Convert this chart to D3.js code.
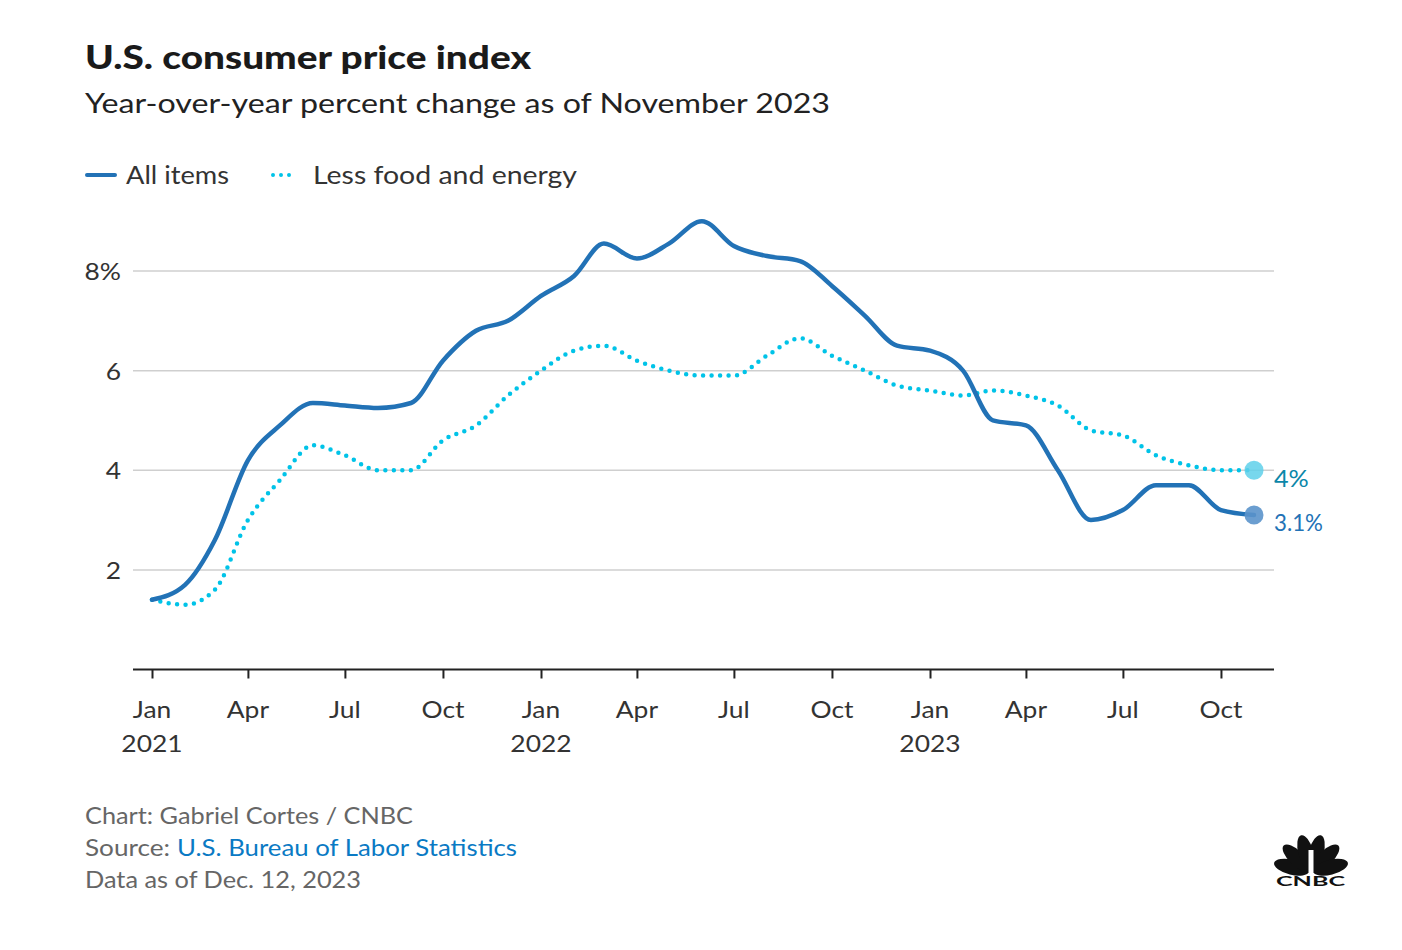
<!DOCTYPE html>
<html><head><meta charset="utf-8">
<script src="https://cdn.jsdelivr.net/npm/d3@7"></script>
<style>body{margin:0;background:#fff;} text{font-family:Lato, "Open Sans", sans-serif;}</style>
</head><body>
<svg id="c" width="1402" height="950"></svg>
<script>
const months = ["2021-01","2021-02","2021-03","2021-04","2021-05","2021-06","2021-07","2021-08","2021-09","2021-10","2021-11","2021-12",
"2022-01","2022-02","2022-03","2022-04","2022-05","2022-06","2022-07","2022-08","2022-09","2022-10","2022-11","2022-12",
"2023-01","2023-02","2023-03","2023-04","2023-05","2023-06","2023-07","2023-08","2023-09","2023-10","2023-11"];
const allItems = [1.4,1.7,2.6,4.2,4.9,5.35,5.3,5.25,5.35,6.2,6.8,7.0,
7.5,7.9,8.55,8.25,8.55,9.0,8.5,8.3,8.2,7.7,7.1,6.5,
6.4,6.0,5.0,4.9,4.0,3.0,3.2,3.7,3.7,3.2,3.1];
const core = [1.4,1.3,1.6,3.0,3.8,4.5,4.3,4.0,4.0,4.6,4.9,5.5,
6.0,6.4,6.5,6.2,6.0,5.9,5.9,6.3,6.65,6.3,6.0,5.7,
5.6,5.5,5.6,5.5,5.3,4.8,4.7,4.3,4.1,4.0,4.0];
const yTicks = [2,4,6,8];
const xTickMonths = ["2021-01","2021-04","2021-07","2021-10","2022-01","2022-04","2022-07","2022-10","2023-01","2023-04","2023-07","2023-10"];
const monthNames = ["Jan","Feb","Mar","Apr","May","Jun","Jul","Aug","Sep","Oct","Nov","Dec"];
const endLabels = ["4%","3.1%"];

const parse = d3.timeParse("%Y-%m");
const dates = months.map(parse);
const svg = d3.select("#c");

const x = d3.scaleTime().domain([parse("2021-01"), parse("2023-11")]).range([152, 1254]);
const y = d3.scaleLinear().domain([0, 8]).range([669.5, 271]);

const C_ALL = "#2272b6", C_CORE = "#00c3e8";

// widen glyphs (Proxima-like) by a factor
function widen(sel, f){
  sel.each(function(){
    const w = this.getComputedTextLength();
    d3.select(this).attr("textLength", w*f).attr("lengthAdjust","spacingAndGlyphs");
  });
  return sel;
}
function fit(sel, w){ return sel.attr("textLength", w).attr("lengthAdjust","spacingAndGlyphs"); }

// title
fit(svg.append("text").attr("x",85).attr("y",69).attr("font-size",32.5).attr("font-weight",900).attr("fill","#1a1a1a").text("U.S. consumer price index"), 446);
fit(svg.append("text").attr("x",85).attr("y",113).attr("font-size",27).attr("fill","#222").text("Year-over-year percent change as of November 2023"), 745);

// legend
svg.append("line").attr("x1",87).attr("x2",115).attr("y1",175).attr("y2",175).attr("stroke",C_ALL).attr("stroke-width",4).attr("stroke-linecap","round");
fit(svg.append("text").attr("x",126).attr("y",184).attr("font-size",24.5).attr("fill","#333").text("All items"), 103);
svg.append("line").attr("x1",273).attr("x2",293).attr("y1",175).attr("y2",175).attr("stroke",C_CORE).attr("stroke-width",4).attr("stroke-linecap","round").attr("stroke-dasharray","0,8");
fit(svg.append("text").attr("x",313).attr("y",184).attr("font-size",24.5).attr("fill","#333").text("Less food and energy"), 264);

// grid
svg.append("g").selectAll("line").data(yTicks).join("line")
  .attr("x1",133).attr("x2",1274).attr("y1",d=>y(d)).attr("y2",d=>y(d))
  .attr("stroke","#cfcfcf").attr("stroke-width",1.5);
widen(svg.append("g").selectAll("text").data(yTicks).join("text")
  .attr("x",121).attr("y",d=>y(d)+9).attr("text-anchor","end").attr("font-size",24).attr("fill","#333")
  .text(d=>d===8?"8%":d), 1.1);

// x axis
const xa = svg.append("g").attr("transform","translate(0,669.5)")
  .call(d3.axisBottom(x).tickValues(xTickMonths.map(parse)).tickSize(9).tickSizeOuter(0).tickFormat(""));
xa.select(".domain").remove();
xa.selectAll(".tick line").attr("stroke","#222").attr("stroke-width",2);
svg.append("line").attr("x1",133).attr("x2",1274).attr("y1",669.5).attr("y2",669.5).attr("stroke","#222").attr("stroke-width",2);
const tg = svg.append("g");
xTickMonths.map(parse).forEach(d=>{
  widen(tg.append("text").attr("x",x(d)).attr("y",718).attr("text-anchor","middle").attr("font-size",24).attr("fill","#333")
    .text(monthNames[d.getMonth()]), 1.1);
  if (d.getMonth()===0)
    widen(tg.append("text").attr("x",x(d)).attr("y",752).attr("text-anchor","middle").attr("font-size",24).attr("fill","#333")
      .text(d.getFullYear()), 1.1);
});

// lines
const line = d3.line().x((d,i)=>x(dates[i])).y(d=>y(d)).curve(d3.curveMonotoneX);
svg.append("path").attr("d",line(core)).attr("fill","none").attr("stroke",C_CORE).attr("stroke-width",4.5)
  .attr("stroke-linecap","round").attr("stroke-dasharray","0,8.5");
svg.append("path").attr("d",line(allItems)).attr("fill","none").attr("stroke",C_ALL).attr("stroke-width",4.5).attr("stroke-linecap","round");

// end markers
const last = dates.length-1;
svg.append("circle").attr("cx",x(dates[last])).attr("cy",y(core[last])).attr("r",9.5).attr("fill","#5fd0ea").attr("opacity",0.85);
svg.append("circle").attr("cx",x(dates[last])).attr("cy",y(allItems[last])).attr("r",9.5).attr("fill","#5b94cb").attr("opacity",0.9);
widen(svg.append("text").attr("x",1274).attr("y",y(core[last])+17).attr("font-size",24).attr("fill","#0b87a9").text(endLabels[0]), 1.05);
fit(svg.append("text").attr("x",1274).attr("y",y(allItems[last])+16).attr("font-size",24).attr("fill","#2272b6").text(endLabels[1]), 49);

// footer
fit(svg.append("text").attr("x",85).attr("y",824).attr("font-size",22.5).attr("fill","#666").text("Chart: Gabriel Cortes / CNBC"), 328);
fit(svg.append("text").attr("x",85).attr("y",856).attr("font-size",22.5).attr("fill","#666").text("Source:"), 85);
fit(svg.append("text").attr("x",177).attr("y",856).attr("font-size",22.5).attr("fill","#0a7ac4").text("U.S. Bureau of Labor Statistics"), 340);
fit(svg.append("text").attr("x",85).attr("y",888).attr("font-size",22.5).attr("fill","#666").text("Data as of Dec. 12, 2023"), 276);

// CNBC logo (peacock)
const logo = svg.append("g").attr("transform","translate(1311,872)");
const angles = [-76,-46,-15,15,46,76];
angles.forEach(a=>{
  logo.append("ellipse").attr("cx",0).attr("cy",-19).attr("rx",7.5).attr("ry",18)
    .attr("transform",`rotate(${a}) translate(0,-1)`).attr("fill","#111");
});
logo.append("path").attr("d","M-2.5,0 L-2.5,-22 L2.5,-22 L2.5,0 Z").attr("fill","#fff");
logo.append("text").attr("x",-35).attr("y",14).attr("font-size",14).attr("font-weight",700)
  .attr("font-family","DejaVu Sans, sans-serif").attr("fill","#111")
  .attr("textLength",69).attr("lengthAdjust","spacingAndGlyphs").text("CNBC");
</script>
</body></html>
